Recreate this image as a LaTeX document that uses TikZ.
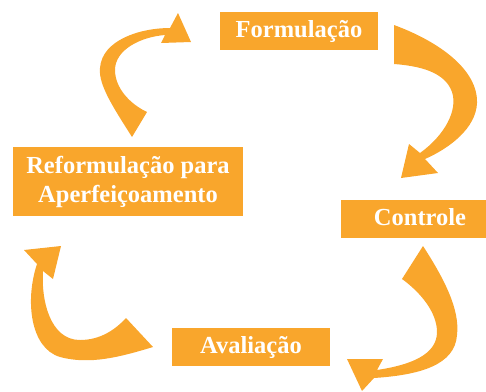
\documentclass[tikz,border=0pt]{standalone}
\usepackage{fontspec}
\setmainfont{Liberation Serif}
\definecolor{orng}{RGB}{249,166,44}
\begin{document}
\begin{tikzpicture}[x=1pt,y=-1pt,
  box/.style={fill=orng, text=white, inner sep=0pt, font=\fontsize{24.5}{29}\selectfont\bfseries,
              text height=17pt, text depth=5pt},
  box2/.style={fill=orng, text=white, inner sep=0pt, font=\fontsize{24.5}{29}\selectfont\bfseries, align=center},
  arr/.style={fill=orng}]
\useasboundingbox (0,0) rectangle (486,391);

\node[box, minimum width=158pt, minimum height=38pt] (form) at (299,31) {Formulação};
\node[box2, minimum width=230pt, minimum height=69pt] (reform) at (128,181.5) {Reformulação para\\Aperfeiçoamento};
\node[box, minimum width=145pt, minimum height=38pt] (ctrl) at (413.5,219) {\hspace*{13pt}Controle};
\node[box, minimum width=158pt, minimum height=38pt] (aval) at (251,347) {Avaliação};

% Formulação -> Controle
\fill[arr] (394,25) .. controls (440,42) and (478,70) .. (477,103)
  .. controls (476,128) and (450,148) .. (425,159)
  -- (438,173) -- (401,178) -- (409,144) -- (420,153)
  .. controls (445,135) and (458,110) .. (452,92)
  .. controls (445,72) and (420,66) .. (394,64) -- cycle;

% Controle -> Avaliação
\fill[arr] (423,246) .. controls (445,280) and (460,310) .. (457,335)
  .. controls (455,365) and (420,375) .. (374,378)
  -- (362,391) -- (347,359) -- (383,359) -- (377,370)
  .. controls (410,365) and (437,355) .. (437,332)
  .. controls (437,312) and (420,292) .. (402,279) -- cycle;

% Avaliação -> Reformulação
\fill[arr] (37,264) -- (24,250) -- (61,246) -- (53,279) -- (43,271)
  .. controls (41,300) and (50,340) .. (80,340)
  .. controls (100,340) and (115,330) .. (126,318)
  -- (153,347)
  .. controls (120,357) and (90,365) .. (60,357)
  .. controls (30,348) and (25,300) .. (37,264) -- cycle;

% Reformulação -> Formulação
\fill[arr] (170,28) -- (178,13) -- (191,42) -- (161,43) -- (165,35)
  .. controls (140,37) and (115,50) .. (115,70)
  .. controls (115,88) and (130,104) .. (147,112)
  -- (132,137)
  .. controls (115,110) and (98,85) .. (100,68)
  .. controls (102,40) and (140,28) .. (170,28) -- cycle;
\end{tikzpicture}
\end{document}
